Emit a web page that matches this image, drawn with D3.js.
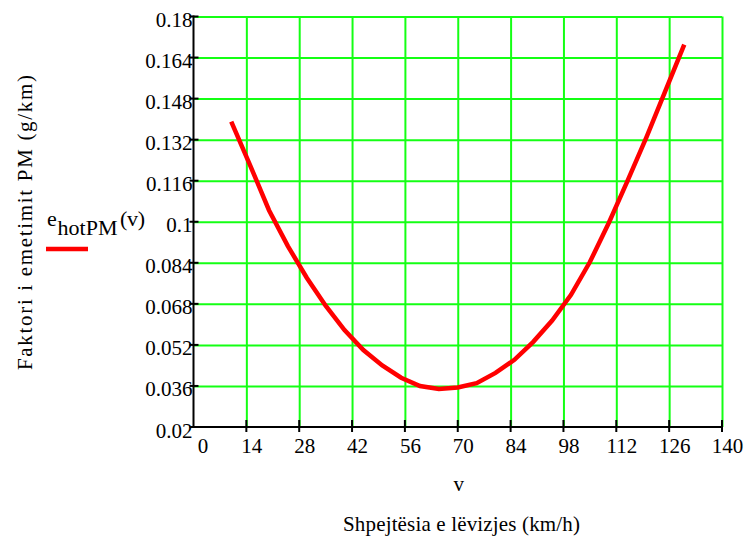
<!DOCTYPE html>
<html>
<head>
<meta charset="utf-8">
<script src="https://cdn.jsdelivr.net/npm/d3@7"></script>
<style>
  html, body { margin: 0; padding: 0; background: #fff; }
  svg { display: block; }
</style>
</head>
<body>
<svg id="chart" width="747" height="541"></svg>
<script>
// Hot PM emission factor versus speed
const speed = [10, 15, 20, 25, 30, 35, 40, 45, 50, 55, 60, 65, 70,
               75, 80, 85, 90, 95, 100, 105, 110, 115, 120, 125, 130];
const emission = [0.1390, 0.1220, 0.1045, 0.0905, 0.0782, 0.0673, 0.0578,
                  0.0500, 0.0440, 0.0392, 0.0360, 0.0348, 0.0354, 0.0371,
                  0.0411, 0.0462, 0.0532, 0.0615, 0.0715, 0.0843, 0.0995,
                  0.1160, 0.1330, 0.1510, 0.1690];
const xTicks = [0, 14, 28, 42, 56, 70, 84, 98, 112, 126, 140];
const yTicks = [0.02, 0.036, 0.052, 0.068, 0.084, 0.1, 0.116, 0.132, 0.148, 0.164, 0.18];

const FONT = "'Liberation Serif', 'Times New Roman', Times, serif";
const FS = 21;
const svg = d3.select("#chart").style("font-family", FONT);
const plotLeft = 193.5, plotRight = 722, plotTop = 16.5, plotBottom = 427;

const x = d3.scaleLinear().domain([0, 140]).range([plotLeft, plotRight]);
const y = d3.scaleLinear().domain([0.02, 0.18]).range([plotBottom, plotTop]);

const GREEN = "#14ff14";

// grid
svg.append("g")
  .attr("transform", `translate(0,${plotBottom})`)
  .call(d3.axisBottom(x).tickValues(xTicks.slice(1)).tickSize(-(plotBottom - plotTop)).tickFormat(""))
  .call(g => g.select(".domain").remove())
  .call(g => g.selectAll("line").attr("stroke", GREEN).attr("stroke-width", 2));
svg.append("g")
  .attr("transform", `translate(${plotLeft},0)`)
  .call(d3.axisLeft(y).tickValues(yTicks.slice(1)).tickSize(-(plotRight - plotLeft)).tickFormat(""))
  .call(g => g.select(".domain").remove())
  .call(g => g.selectAll("line").attr("stroke", GREEN).attr("stroke-width", 2));

// axis lines
svg.append("line").attr("x1", plotLeft).attr("x2", plotRight + 1).attr("y1", plotBottom).attr("y2", plotBottom)
  .attr("stroke", "#000").attr("stroke-width", 2);
svg.append("line").attr("x1", plotLeft).attr("x2", plotLeft).attr("y1", plotTop - 1).attr("y2", plotBottom + 1)
  .attr("stroke", "#000").attr("stroke-width", 2);

// x ticks and labels
const xAxis = svg.append("g").attr("transform", `translate(0,${plotBottom})`)
  .call(d3.axisBottom(x).tickValues(xTicks).tickSize(0).tickPadding(0).tickFormat(d => String(d)));
xAxis.attr("font-family", FONT).attr("font-size", FS);
xAxis.select(".domain").remove();
xAxis.selectAll(".tick line").remove();
xAxis.selectAll(".tick text")
  .style("font-family", FONT).attr("font-size", FS)
  .attr("dy", null).attr("y", 26)
  .attr("x", (d, i) => i === 0 ? 9 : 5);
svg.append("g").selectAll("line").data(xTicks.slice(1)).join("line")
  .attr("x1", d => x(d)).attr("x2", d => x(d))
  .attr("y1", plotBottom - 7).attr("y2", plotBottom + 5)
  .attr("stroke", "#000").attr("stroke-width", 2);

// y ticks and labels
const yAxis = svg.append("g").attr("transform", `translate(${plotLeft},0)`)
  .call(d3.axisLeft(y).tickValues(yTicks).tickSize(0).tickPadding(0).tickFormat(d => String(d)));
yAxis.attr("font-family", FONT).attr("font-size", FS);
yAxis.select(".domain").remove();
yAxis.selectAll(".tick line").remove();
yAxis.selectAll(".tick text")
  .style("font-family", FONT).attr("font-size", FS)
  .attr("dy", null).attr("y", 10).attr("x", -1);
svg.append("g").selectAll("line").data(yTicks).join("line")
  .attr("x1", plotLeft - 4).attr("x2", plotLeft + 5)
  .attr("y1", d => y(d)).attr("y2", d => y(d))
  .attr("stroke", "#000").attr("stroke-width", 2);

// curve
const pts = speed.map((v, i) => [v, emission[i]]);
svg.append("path")
  .datum(pts)
  .attr("fill", "none")
  .attr("stroke", "#ff0000")
  .attr("stroke-width", 4.5)
  .attr("d", d3.line().x(d => x(d[0])).y(d => y(d[1])));

// legend: e_hotPM(v)
const leg = svg.append("text")
  .style("font-family", FONT).attr("font-size", 22);
leg.append("tspan").attr("x", 47).attr("y", 226).text("e");
leg.append("tspan").attr("x", 57.5).attr("y", 235)
  .attr("textLength", 60).attr("lengthAdjust", "spacing").text("hotPM");
leg.append("tspan").attr("x", 120).attr("y", 226)
  .attr("textLength", 25).attr("lengthAdjust", "spacing").text("(v)");
svg.append("line").attr("x1", 46).attr("x2", 88).attr("y1", 249).attr("y2", 249)
  .attr("stroke", "#ff0000").attr("stroke-width", 4.5);

// axis titles
svg.append("text").attr("x", (plotLeft + plotRight) / 2 + 1).attr("y", 491).attr("text-anchor", "middle")
  .style("font-family", FONT).attr("font-size", FS).text("v");
svg.append("text").attr("x", 343).attr("y", 531)
  .attr("textLength", 237).attr("lengthAdjust", "spacing")
  .style("font-family", FONT).attr("font-size", FS).text("Shpejtësia e lëvizjes (km/h)");
svg.append("text")
  .attr("transform", "translate(32,370) rotate(-90)")
  .attr("textLength", 295).attr("lengthAdjust", "spacing")
  .style("font-family", FONT).attr("font-size", FS)
  .text("Faktori i emetimit PM (g/km)");
</script>
</body>
</html>
